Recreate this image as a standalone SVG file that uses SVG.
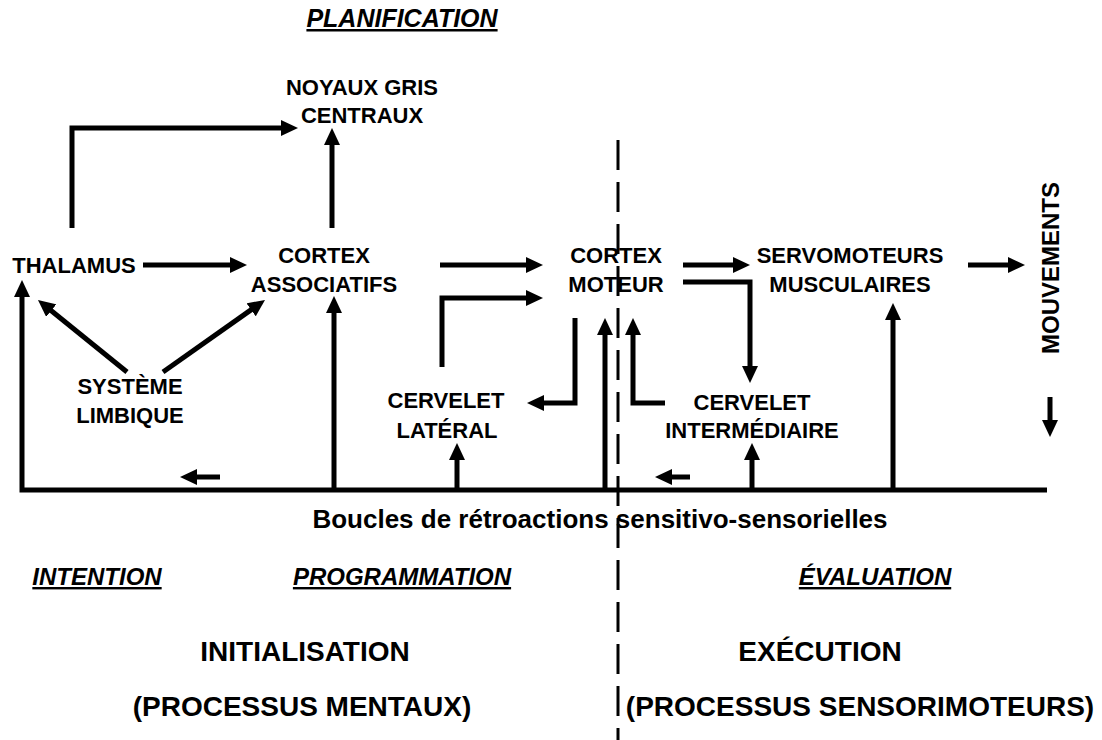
<svg xmlns="http://www.w3.org/2000/svg" width="1102" height="740" viewBox="0 0 1102 740">
<style>
text{font-family:"Liberation Sans",Arial,sans-serif;font-weight:bold;fill:#000;text-anchor:middle}
.n{font-size:22px}
.v{font-size:24px}
.s{font-size:24px;font-style:italic;text-decoration:underline}
.b{font-size:26px}
.big{font-size:28px}
.c{fill:none;stroke:#000;stroke-width:5;stroke-linejoin:miter}
</style>
<defs>
<marker id="ah" markerUnits="userSpaceOnUse" markerWidth="17" markerHeight="16" refX="5" refY="8" orient="auto" viewBox="0 0 17 16">
<path d="M0,0 L17,8 L0,16 z" fill="#000"/>
</marker>
</defs>
<rect width="1102" height="740" fill="#fff"/>
<line x1="618" y1="140" x2="618" y2="740" stroke="#000" stroke-width="3" stroke-dasharray="30 12"/>
<g id="connectors">
<path class="c" d="M72,228 V128 H286" marker-end="url(#ah)"/>
<path class="c" d="M332,228 V140" marker-end="url(#ah)"/>
<path class="c" d="M143,265 H235" marker-end="url(#ah)"/>
<path class="c" d="M440,265 H531" marker-end="url(#ah)"/>
<path class="c" d="M442,367 V298 H531" marker-end="url(#ah)"/>
<path class="c" d="M575,318 V403 H539" marker-end="url(#ah)"/>
<path class="c" d="M605,490 V330" marker-end="url(#ah)"/>
<path class="c" d="M665,403 H633 V330" marker-end="url(#ah)"/>
<path class="c" d="M683,265 H738" marker-end="url(#ah)"/>
<path class="c" d="M683,282 H750 V371" marker-end="url(#ah)"/>
<path class="c" d="M968,265 H1013" marker-end="url(#ah)"/>
<path class="c" d="M1050,397 V425" marker-end="url(#ah)"/>
<path class="c" d="M1047,490 H22 V292" marker-end="url(#ah)"/>
<path class="c" d="M334,490 V308" marker-end="url(#ah)"/>
<path class="c" d="M127,372 L47.3,307.5" marker-end="url(#ah)"/>
<path class="c" d="M163,372 L255.2,306.9" marker-end="url(#ah)"/>
<path class="c" d="M457,490 V455" marker-end="url(#ah)"/>
<path class="c" d="M752,490 V455" marker-end="url(#ah)"/>
<path class="c" d="M893,490 V315" marker-end="url(#ah)"/>
<path class="c" d="M220,477 H192" marker-end="url(#ah)"/>
<path class="c" d="M690,477 H667" marker-end="url(#ah)"/>
</g>
<g id="noyaux"><text class="n" x="362" y="95">NOYAUX GRIS</text><text class="n" x="362" y="123">CENTRAUX</text></g>
<g id="thalamus"><text class="n" x="74" y="273">THALAMUS</text></g>
<g id="cortex-associatifs"><text class="n" x="324" y="263">CORTEX</text><text class="n" x="324" y="292">ASSOCIATIFS</text></g>
<g id="cortex-moteur"><text class="n" x="616" y="263">CORTEX</text><text class="n" x="616" y="292">MOTEUR</text></g>
<g id="servomoteurs"><text class="n" x="850" y="263">SERVOMOTEURS</text><text class="n" x="850" y="292">MUSCULAIRES</text></g>
<g id="mouvements"><text class="v" transform="translate(1059,268) rotate(-90)">MOUVEMENTS</text></g>
<g id="systeme-limbique"><text class="n" x="130" y="394">SYSTÈME</text><text class="n" x="130" y="423">LIMBIQUE</text></g>
<g id="cervelet-lateral"><text class="n" x="446" y="408">CERVELET</text><text class="n" x="447" y="438">LATÉRAL</text></g>
<g id="cervelet-intermediaire"><text class="n" x="752" y="410">CERVELET</text><text class="n" x="752" y="438">INTERMÉDIAIRE</text></g>
<g id="labels">
<text class="b" x="600" y="528">Boucles de rétroactions sensitivo-sensorielles</text>
<text class="s" x="402" y="27" style="font-size:25px">PLANIFICATION</text>
<text class="s" x="97" y="585">INTENTION</text>
<text class="s" x="402" y="585">PROGRAMMATION</text>
<text class="s" x="875" y="585">ÉVALUATION</text>
<text class="big" x="305" y="661">INITIALISATION</text>
<text class="big" x="302" y="716">(PROCESSUS MENTAUX)</text>
<text class="big" x="820" y="661">EXÉCUTION</text>
<text class="big" x="860" y="716">(PROCESSUS SENSORIMOTEURS)</text>
</g>
</svg>
